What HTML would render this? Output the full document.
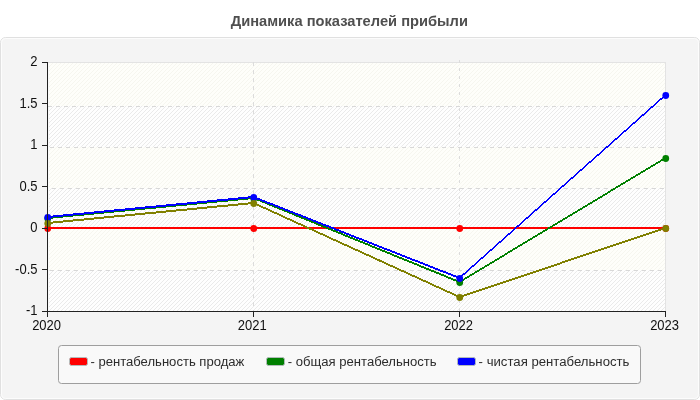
<!DOCTYPE html>
<html><head><meta charset="utf-8">
<style>
html,body{margin:0;padding:0;background:#fff;}
body{width:700px;height:400px;overflow:hidden;position:relative;font-family:"Liberation Sans",sans-serif;}
svg{position:absolute;left:0;top:0;display:block;will-change:transform}
text{font-family:"Liberation Sans",sans-serif;}
</style></head><body>
<svg width="700" height="400" viewBox="0 0 700 400">
<defs>
<pattern id="h1" width="4" height="4" patternUnits="userSpaceOnUse">
<rect width="4" height="4" fill="#fefefa"/>
<path d="M0 3h1v1h-1zM1 2h1v1h-1zM2 1h1v1h-1zM3 0h1v1h-1z" fill="#f6f6ef"/>
</pattern>
<pattern id="h2" width="4" height="4" patternUnits="userSpaceOnUse">
<rect width="4" height="4" fill="#fefefe"/>
<path d="M0 3h1v1h-1zM1 2h1v1h-1zM2 1h1v1h-1zM3 0h1v1h-1z" fill="#eaeaea"/>
</pattern>
</defs>
<text transform="translate(349.3,25.8) scale(0.954,1)" text-anchor="middle" font-size="15.4" font-weight="bold" fill="#4f4f4f">Динамика показателей прибыли</text>
<rect x="0.5" y="37.5" width="699" height="362" rx="5" ry="5" fill="#f4f4f4" stroke="#e0e0e0"/>
<rect x="1.5" y="38.5" width="697" height="360" rx="4" ry="4" fill="#f4f4f4" stroke="#fcfcfc"/>
<rect x="48" y="63" width="617" height="248" fill="#fafafa"/>
<rect x="49" y="63" width="616" height="248" fill="url(#h1)" shape-rendering="crispEdges"/>
<rect x="49" y="106" width="616" height="41" fill="url(#h2)" shape-rendering="crispEdges"/>
<rect x="49" y="188" width="616" height="41" fill="url(#h2)" shape-rendering="crispEdges"/>
<rect x="49" y="270" width="616" height="41" fill="url(#h2)" shape-rendering="crispEdges"/>
<path d="M48 62.5H666M665.5 62V311" stroke="#e3e3e3" fill="none" shape-rendering="crispEdges"/>
<g stroke="#d8d8d8" stroke-dasharray="4 4" fill="none" shape-rendering="crispEdges">
<path d="M48 106.5H665M50 147.5H665M52 188.5H665M50 270.5H665"/>
<path d="M253.5 62V311M459.5 59.5V311" stroke-dasharray="3.5 4.5" stroke="#dcdcdc"/>
</g>
<g shape-rendering="crispEdges">
<polygon points="47.5,227.0 253.5,227.0 459.5,227.0 665.5,227.0 665.5,229.0 459.5,229.0 253.5,229.0 47.5,229.0" fill="#ff0000"/>
<polygon points="47.5,217.0 253.5,197.0 459.5,281.0 665.5,157.0 665.5,159.0 459.5,283.0 253.5,199.0 47.5,219.0" fill="#008000"/>
<polygon points="47.5,216.0 253.5,196.0 459.5,277.0 665.5,94.0 665.5,96.0 459.5,279.0 253.5,198.0 47.5,218.0" fill="#0000ff"/>
<polygon points="47.5,222.0 253.5,202.0 459.5,296.0 665.5,227.0 665.5,229.0 459.5,298.0 253.5,204.0 47.5,224.0" fill="#808000"/>
</g>
<circle cx="47.75" cy="228.5" r="3.4" fill="#ff0000"/><circle cx="253.75" cy="228.5" r="3.4" fill="#ff0000"/><circle cx="459.75" cy="228.5" r="3.4" fill="#ff0000"/><circle cx="665.75" cy="228.5" r="3.4" fill="#ff0000"/>
<circle cx="47.75" cy="218.5" r="3.4" fill="#008000"/><circle cx="253.75" cy="198.5" r="3.4" fill="#008000"/><circle cx="459.75" cy="282.5" r="3.4" fill="#008000"/><circle cx="665.75" cy="158.5" r="3.4" fill="#008000"/>
<circle cx="47.75" cy="217.5" r="3.4" fill="#0000ff"/><circle cx="253.75" cy="197.5" r="3.4" fill="#0000ff"/><circle cx="459.75" cy="278.5" r="3.4" fill="#0000ff"/><circle cx="665.75" cy="95.5" r="3.4" fill="#0000ff"/>
<circle cx="47.75" cy="223.5" r="3.4" fill="#808000"/><circle cx="253.75" cy="203.5" r="3.4" fill="#808000"/><circle cx="459.75" cy="297.5" r="3.4" fill="#808000"/><circle cx="665.75" cy="228.5" r="3.4" fill="#808000"/>
<g stroke="#222" fill="none" shape-rendering="crispEdges">
<path d="M47.5 62V317M42 62.5H48M42 103.5H48M42 145.5H48M42 186.5H48M42 228.5H48M42 269.5H48M42 311.5H666M253.5 311V317M459.5 311V317M665.5 311V317"/>
</g>
<g font-size="15.3" fill="#111" text-anchor="end">
<text transform="translate(37.5,66) scale(0.85,1)">2</text><text transform="translate(37.5,108) scale(0.85,1)">1.5</text><text transform="translate(37.5,149) scale(0.85,1)">1</text><text transform="translate(37.5,191) scale(0.85,1)">0.5</text><text transform="translate(37.5,232) scale(0.85,1)">0</text><text transform="translate(37.5,274) scale(0.85,1)">-0.5</text><text transform="translate(37.5,315) scale(0.85,1)">-1</text>
</g>
<g font-size="15.3" fill="#111" text-anchor="middle">
<text transform="translate(46.6,330) scale(0.85,1)">2020</text><text transform="translate(252.2,330) scale(0.85,1)">2021</text><text transform="translate(458.6,330) scale(0.85,1)">2022</text><text transform="translate(664.6,330) scale(0.85,1)">2023</text>
</g>
<rect x="58.5" y="345.5" width="582" height="38" rx="3" fill="#f9f9f9" stroke="#9e9e9e"/>
<g font-size="13.5" fill="#2c2c2c">
<rect x="69.5" y="357.5" width="18" height="8" rx="2" fill="#f00" stroke="#b4bcbc"/><text transform="translate(90.4,365.8) scale(0.97,1)">- рентабельность продаж</text>
<rect x="266.5" y="357.5" width="18" height="8" rx="2" fill="#008000" stroke="#b4bcbc"/><text transform="translate(287.8,365.8) scale(0.97,1)">- общая рентабельность</text>
<rect x="457.5" y="357.5" width="18" height="8" rx="2" fill="#00f" stroke="#b4bcbc"/><text transform="translate(478.6,365.8) scale(0.976,1)">- чистая рентабельность</text>
</g>
</svg>
</body></html>
